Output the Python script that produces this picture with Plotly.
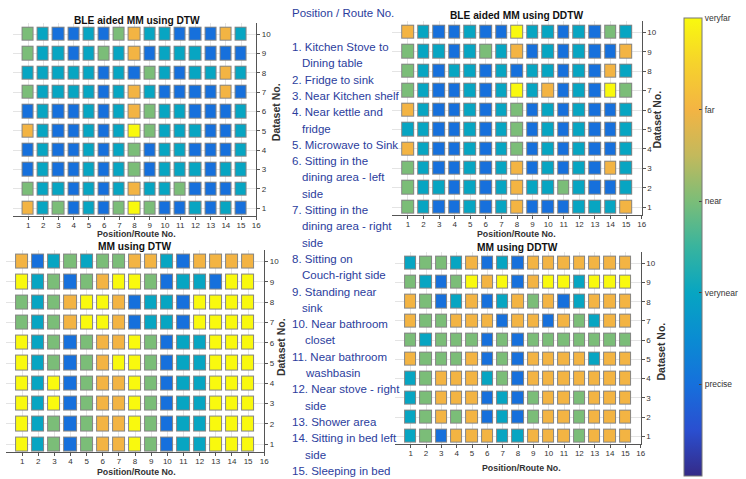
import plotly.graph_objects as go

W, H = 746, 479

positions = list(range(1, 16))
datasets = list(range(1, 11))
level_values = [1, 2, 3, 4, 5]
level_names = ["precise", "verynear", "near", "far", "veryfar"]

# rows: dataset 1 .. dataset 10, columns: position/route 1 .. 15
ble_dtw = [
    [4, 2, 3, 1, 2, 1, 3, 5, 3, 1, 1, 2, 1, 2, 1],
    [3, 2, 2, 1, 2, 1, 2, 4, 2, 2, 3, 1, 1, 1, 2],
    [1, 2, 1, 1, 2, 1, 2, 3, 1, 2, 2, 2, 1, 2, 2],
    [1, 2, 1, 1, 2, 1, 2, 3, 1, 2, 2, 1, 1, 1, 2],
    [4, 2, 1, 1, 2, 1, 2, 5, 3, 2, 2, 2, 1, 1, 2],
    [1, 2, 1, 1, 2, 1, 2, 4, 3, 2, 2, 1, 1, 1, 2],
    [3, 2, 2, 2, 2, 1, 2, 4, 2, 1, 1, 1, 1, 4, 1],
    [2, 2, 2, 2, 2, 1, 2, 1, 3, 2, 1, 2, 2, 4, 2],
    [3, 2, 2, 1, 2, 3, 2, 4, 1, 2, 2, 2, 1, 1, 1],
    [3, 2, 1, 1, 2, 1, 3, 4, 2, 2, 1, 1, 1, 4, 2],
]
ble_ddtw = [
    [3, 2, 1, 1, 2, 1, 2, 4, 1, 1, 1, 2, 2, 2, 4],
    [3, 2, 2, 1, 2, 1, 2, 4, 2, 2, 3, 2, 1, 1, 2],
    [3, 2, 1, 1, 2, 1, 2, 4, 1, 2, 1, 2, 1, 4, 2],
    [4, 2, 1, 1, 2, 1, 2, 3, 1, 2, 1, 2, 1, 1, 2],
    [2, 2, 1, 1, 2, 1, 2, 3, 1, 2, 1, 2, 1, 1, 2],
    [4, 2, 1, 1, 2, 1, 2, 3, 1, 2, 1, 2, 1, 1, 2],
    [3, 2, 1, 1, 2, 1, 2, 5, 2, 4, 1, 2, 1, 5, 3],
    [3, 2, 1, 2, 2, 1, 2, 1, 2, 2, 1, 2, 1, 4, 2],
    [3, 2, 2, 1, 2, 3, 2, 4, 1, 2, 1, 2, 1, 1, 4],
    [4, 2, 1, 1, 2, 1, 1, 5, 2, 2, 1, 2, 1, 3, 2],
]
mm_dtw = [
    [5, 2, 3, 1, 3, 4, 4, 5, 3, 1, 2, 2, 5, 5, 5],
    [5, 2, 3, 1, 3, 4, 4, 5, 3, 1, 2, 2, 5, 5, 5],
    [5, 2, 5, 1, 3, 4, 4, 5, 3, 1, 2, 2, 5, 5, 5],
    [5, 2, 5, 1, 3, 4, 4, 5, 3, 1, 2, 2, 5, 5, 5],
    [5, 2, 3, 1, 3, 4, 5, 5, 3, 1, 2, 2, 5, 5, 5],
    [5, 2, 3, 1, 3, 4, 4, 5, 3, 1, 2, 2, 5, 5, 5],
    [3, 2, 3, 4, 5, 5, 4, 1, 2, 2, 1, 5, 5, 5, 5],
    [3, 2, 3, 4, 5, 5, 4, 1, 2, 2, 1, 5, 5, 5, 5],
    [5, 2, 3, 1, 3, 4, 5, 5, 3, 1, 2, 2, 1, 5, 5],
    [4, 1, 2, 3, 2, 3, 3, 4, 4, 2, 1, 4, 4, 4, 4],
]
mm_ddtw = [
    [2, 3, 1, 4, 4, 4, 2, 2, 4, 4, 4, 3, 4, 4, 4],
    [2, 3, 4, 3, 4, 1, 2, 1, 3, 4, 4, 3, 4, 4, 4],
    [2, 3, 4, 4, 4, 1, 2, 1, 3, 4, 4, 3, 4, 4, 4],
    [2, 3, 4, 4, 4, 2, 3, 1, 4, 4, 4, 4, 4, 4, 4],
    [4, 3, 3, 3, 4, 1, 3, 1, 4, 4, 4, 4, 2, 4, 4],
    [3, 2, 3, 3, 3, 1, 3, 1, 3, 3, 3, 3, 3, 3, 3],
    [4, 3, 3, 4, 4, 4, 1, 4, 4, 1, 4, 3, 2, 4, 4],
    [4, 3, 1, 2, 4, 1, 2, 4, 3, 4, 1, 2, 4, 4, 4],
    [3, 2, 1, 3, 5, 4, 5, 1, 4, 5, 5, 2, 5, 5, 5],
    [2, 3, 3, 2, 4, 1, 2, 1, 4, 4, 4, 4, 4, 4, 4],
]

panel_titles = ["BLE aided MM using DTW", "BLE aided MM using DDTW",
                "MM using DTW", "MM using DDTW"]
panel_data = [ble_dtw, ble_ddtw, mm_dtw, mm_ddtw]

legend_title = "Position / Route No."
route_lines = [
    ["1. Kitchen Stove to", "Dining table"],
    ["2. Fridge to sink"],
    ["3. Near Kitchen shelf"],
    ["4. Near kettle and", "fridge"],
    ["5. Microwave to Sink"],
    ["6. Sitting in the", "dining area - left", "side"],
    ["7. Sitting in the", "dining area - right", "side"],
    ["8. Sitting on", "Couch-right side"],
    ["9. Standing near", "sink"],
    ["10. Near bathroom", "closet"],
    ["11. Near bathroom", "washbasin"],
    ["12. Near stove - right", "side"],
    ["13. Shower area"],
    ["14. Sitting in bed left", "side"],
    ["15. Sleeping in bed"],
]

parula = [
    [0.00, "#352a87"], [0.10, "#2a4fd0"], [0.20, "#1670dc"],
    [0.30, "#0a8cd2"], [0.40, "#07a5c2"], [0.50, "#38b49e"],
    [0.60, "#7bbd78"], [0.70, "#c3b95c"], [0.80, "#f3b443"],
    [0.90, "#f6d22c"], [1.00, "#f9f90e"],
]

# pixel boxes of the four plot areas: (left, right, top, bottom)
boxes = [(13, 258, 22.7, 216), (395, 646, 20.7, 215),
         (6, 266, 249.5, 452.3), (398, 645, 251.7, 444)]
title_pos = [(138, 20), (520, 15.5), (135, 246), (520.5, 247)]
xtitle_pos = [(137, 233.5), (520, 233.5), (137, 471.5), (525, 468)]
ytitle_pos = [(278, 112), (661, 120), (283, 347), (665, 352)]

FONT = "Liberation Sans, Arial, sans-serif"

fig = go.Figure()
layout = dict(width=W, height=H, margin=dict(l=0, r=0, t=0, b=0),
              paper_bgcolor="white", plot_bgcolor="white", showlegend=False,
              font=dict(family=FONT, color="#333"))
annotations = []

for i, (z, box) in enumerate(zip(panel_data, boxes)):
    sfx = "" if i == 0 else str(i + 1)
    xa, ya = "x" + sfx, "y" + sfx
    border = [[1] * len(positions) for _ in datasets]
    fig.add_trace(go.Heatmap(
        x=positions, y=datasets, z=border, xaxis=xa, yaxis=ya,
        colorscale=[[0, "#858585"], [1, "#858585"]], showscale=False,
        xgap=3, ygap=5, hoverinfo="skip"))
    fig.add_trace(go.Heatmap(
        x=positions, y=datasets, z=z, xaxis=xa, yaxis=ya,
        coloraxis="coloraxis", xgap=5, ygap=7))
    l, r, t, b = box
    layout["xaxis" + sfx] = dict(
        domain=[l / W, r / W], anchor=ya, range=[0, 16],
        tickvals=list(range(1, 17)), ticks="outside", ticklen=3,
        ticklabelstandoff=-2,
        tickcolor="#555", showline=True, linecolor="#555", linewidth=1,
        showgrid=True, gridcolor="#e4e4e4", zeroline=False,
        tickfont=dict(size=8, color="#333"))
    layout["yaxis" + sfx] = dict(
        domain=[1 - b / H, 1 - t / H], anchor=xa, side="right",
        range=[0.6, 10.6], tickvals=datasets, ticks="outside", ticklen=3,
        tickcolor="#555", showline=True, linecolor="#555", linewidth=1,
        showgrid=True, gridcolor="#e4e4e4", zeroline=False,
        tickfont=dict(size=8, color="#333"))
    tx, ty = title_pos[i]
    annotations.append(dict(text="<b>" + panel_titles[i] + "</b>", x=tx / W,
                            y=1 - ty / H, xref="paper", yref="paper",
                            showarrow=False, xanchor="center", yanchor="middle",
                            font=dict(size=10.2, color="#111", family=FONT)))
    px_, py_ = xtitle_pos[i]
    annotations.append(dict(text="<b>Position/Route No.</b>", x=px_ / W,
                            y=1 - py_ / H, xref="paper", yref="paper",
                            showarrow=False, xanchor="center", yanchor="middle",
                            font=dict(size=8.8, color="#333", family=FONT)))
    qx, qy = ytitle_pos[i]
    annotations.append(dict(text="<b>Dataset No.</b>", x=qx / W, y=1 - qy / H,
                            xref="paper", yref="paper", textangle=-90,
                            showarrow=False, xanchor="center", yanchor="middle",
                            font=dict(size=10.5, color="#333", family=FONT)))

BLUE = "#2b3d9d"
annotations.append(dict(text=legend_title, x=291.5 / W, y=1 - 13.5 / H,
                        xref="paper", yref="paper", showarrow=False,
                        xanchor="left", yanchor="middle",
                        font=dict(size=11.5, color=BLUE, family=FONT)))
line_no = 0
for k, lines in enumerate(route_lines):
    for j, txt in enumerate(lines):
        if j == 0:
            lx = 291.5
        else:
            lx = 302.5 if k < 9 else 305.5
        ly = 47 + 16.3 * line_no
        annotations.append(dict(text=txt, x=lx / W, y=1 - ly / H,
                                xref="paper", yref="paper", showarrow=False,
                                xanchor="left", yanchor="middle",
                                font=dict(size=11.5, color=BLUE, family=FONT)))
        line_no += 1

layout["annotations"] = annotations
layout["coloraxis"] = dict(
    cmin=0, cmax=5, colorscale=parula,
    colorbar=dict(x=689 / W, xanchor="left", y=1 - 247 / H, yanchor="middle",
                  len=458 / H, lenmode="fraction", thickness=18,
                  thicknessmode="pixels", xpad=0, ypad=0,
                  outlinecolor="#777", outlinewidth=1,
                  tickvals=level_values, ticktext=level_names, ticks="inside",
                  ticklen=3, tickcolor="#444",
                  tickfont=dict(size=8.5, color="#333", family=FONT)))
fig.update_layout(**layout)
fig.write_html("out.html", config={"displayModeBar": False},
               post_script="document.body.style.margin='0';")
